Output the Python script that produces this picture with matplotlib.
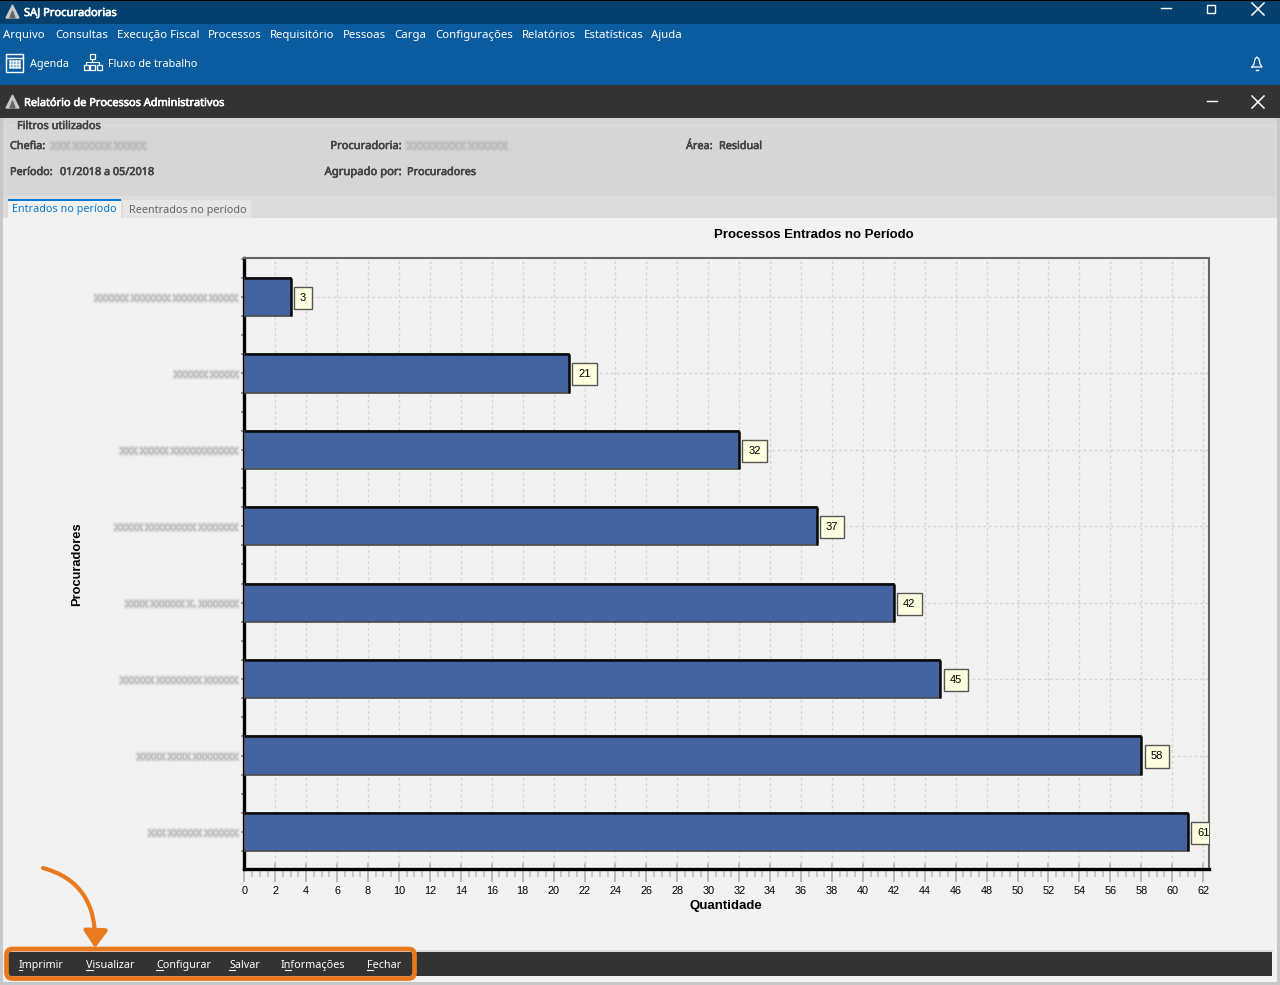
import matplotlib
matplotlib.use("Agg")
import matplotlib.pylab as plt
import matplotlib.patheffects as pe
from matplotlib.patches import Rectangle, FancyBboxPatch, FancyArrowPatch

# names are unreadable in the reference, so these only stand in for the blurred text
names = ["xxxxxx xxxxxxx xxxxxx xxxxx", "xxxxxx xxxxx", "xxx xxxxx xxxxxxxxxxxx", "xxxxx xxxxxxxxx xxxxxxx",
         "xxxx xxxxxx x. xxxxxxx", "xxxxxx xxxxxxxx xxxxxx", "xxxxx xxxx xxxxxxxx", "xxx xxxxxx xxxxxx"]
quantities = [3, 21, 32, 37, 42, 45, 58, 61]

menu_labels = ["Arquivo", "Consultas", "Execução Fiscal", "Processos", "Requisitório", "Pessoas", "Carga",
               "Configurações", "Relatórios", "Estatísticas", "Ajuda"]
menu_x = [3, 55, 117, 208, 270, 343, 394, 435, 522, 584, 651]
button_labels = ["Imprimir", "Visualizar", "Configurar", "Salvar", "Informações", "Fechar"]
button_x = [19, 86, 156, 229, 281, 367]
underline_x = [(19, 22), (86, 93), (156, 163), (229, 235), (285, 291), (367, 373)]

UI_FONT = "Noto Sans"
CHART_FONT = "Liberation Sans"


def blur(color="#b4b4b4"):
    """ layers of soft strokes so that text looks blurred like in the picture """
    return [pe.Stroke(linewidth=4, foreground=color, alpha=0.12),
            pe.Stroke(linewidth=2.5, foreground=color, alpha=0.22),
            pe.Stroke(linewidth=1.2, foreground=color, alpha=0.35)]


def box(x, y, w, h, color):
    """
    filled rectangle in pixel coordinates of the window

    :param x:
    :param y:
    :param w:
    :param h:
    :param color:
    :return:
    """
    plt.gca().add_patch(Rectangle((x, y), w, h, facecolor=color, edgecolor="none"))


def label(x, y, text, color="white", size=8.2, heavy=False, ha="left"):
    """ window text, y is the vertical centre in pixels, heavy thickens the regular face """
    t = plt.text(x, y + 4, text, color=color, fontsize=size, ha=ha, va="baseline", family=UI_FONT)
    if heavy:
        t.set_path_effects([pe.withStroke(linewidth=0.45, foreground=color)])
    return t


def draw_logo(x, y):
    """ small pyramid of the title bars """
    plt.fill([x, x + 6.5, x + 13], [y + 13, y, y + 13], color="#c9c9c9")
    plt.fill([x + 4, x + 6.5, x + 9], [y + 13, y + 6, y + 13], color="#666666")


def draw_close(x, y, size, color="white"):
    """ cross of a window button """
    plt.plot([x, x + size], [y, y + size], color=color, lw=1.1)
    plt.plot([x, x + size], [y + size, y], color=color, lw=1.1)


def draw_window():
    """ everything around the chart, drawn in pixels on one big axes """
    plt.axes([0, 0, 1, 1])
    plt.xlim(0, 1280)
    plt.ylim(985, 0)
    plt.axis("off")

    box(0, 0, 1280, 985, "#f2f2f2")
    box(0, 0, 1280, 24, "#05406f")
    box(0, 0, 1280, 1, "#000000")
    box(0, 24, 1280, 61, "#0b5c9e")
    box(0, 85, 1280, 33, "#333333")
    box(0, 118, 1280, 78, "#d6d6d6")
    box(0, 196, 1280, 22, "#dcdcdc")
    box(0, 118, 3, 867, "#c8c8c8")
    box(1277, 118, 3, 867, "#c8c8c8")
    box(0, 982, 1280, 3, "#c8c8c8")

    # title bars
    draw_logo(6, 5)
    label(24, 12, "SAJ Procuradorias", size=8, heavy=True)
    draw_logo(6, 95)
    label(24, 102, "Relatório de Processos Administrativos", size=7.9, heavy=True)
    plt.plot([1161, 1171], [8, 8], color="white", lw=1)
    plt.gca().add_patch(Rectangle((1207, 5), 8, 8, facecolor="none", edgecolor="white", lw=1))
    draw_close(1252, 3, 12)
    plt.plot([1207, 1217], [101, 101], color="white", lw=1)
    draw_close(1252, 96, 12)

    # menu and toolbar
    for x, text in zip(menu_x, menu_labels):
        label(x, 34, text, size=8.2)
    plt.gca().add_patch(Rectangle((6, 54), 17, 18, facecolor="none", edgecolor="white", lw=1))
    plt.plot([6, 23], [58, 58], color="white", lw=1)
    for x in [10, 13, 16, 19]:
        plt.plot([x, x, x], [61, 64, 67], color="white", lw=0, marker="s", markersize=1)
    label(30, 63, "Agenda", size=7.8)
    plt.gca().add_patch(Rectangle((90, 54), 5, 5, facecolor="none", edgecolor="white", lw=0.9))
    for x in [84, 90, 97]:
        plt.gca().add_patch(Rectangle((x, 65), 5, 5, facecolor="none", edgecolor="white", lw=0.9))
    plt.plot([92, 92, 86, 86], [59, 62, 62, 65], color="white", lw=0.8)
    plt.plot([92, 99, 99], [62, 62, 65], color="white", lw=0.8)
    label(108, 63, "Fluxo de trabalho", size=7.8)
    plt.plot([1252, 1254, 1255, 1257, 1259, 1260, 1262, 1252], [67, 64, 59, 57, 59, 64, 67, 67], color="white", lw=0.9)
    plt.plot([1256, 1258], [70, 70], color="white", lw=1)

    # filter box
    plt.gca().add_patch(Rectangle((5, 125), 1270, 71, facecolor="none", edgecolor="#dedede", lw=1))
    box(15, 120, 89, 11, "#d6d6d6")
    label(17, 125, "Filtros utilizados", "#444444", 7.9, True)
    label(10, 145, "Chefia:", "#444444", 7.8, True)
    label(51, 145, "xxx xxxxxx xxxxx", "#b4b4b4", 8.6).set_path_effects(blur())
    label(402, 145, "Procuradoria:", "#444444", 8, True, ha="right")
    label(407, 145, "xxxxxxxxx xxxxxx", "#b4b4b4", 8.8).set_path_effects(blur())
    label(686, 145, "Área:", "#444444", 7.8, True)
    label(719, 145, "Residual", "#444444", 7.8, True)
    label(10, 171, "Período:", "#444444", 7.8, True)
    label(60, 171, "01/2018 a 05/2018", "#444444", 7.8, True)
    label(402, 171, "Agrupado por:", "#444444", 8.1, True, ha="right")
    label(407, 171, "Procuradores", "#444444", 7.8, True)

    # tabs
    box(3, 218, 1274, 734, "#f2f2f2")
    box(8, 199, 113, 19, "#f2f2f2")
    box(8, 199, 113, 2, "#0a78d0")
    box(123, 200, 128, 18, "#e6e6e6")
    label(12, 208, "Entrados no período", "#0a78d0", 7.8)
    label(129, 209, "Reentrados no período", "#666666", 7.8)

    # bottom bar
    box(5, 950, 1268, 2, "#dcdcdc")
    box(5, 952, 1267, 24, "#333333")
    for x, text in zip(button_x, button_labels):
        label(x, 964, text, size=7.8)
    for start, end in underline_x:
        plt.plot([start, end], [970, 970], color="white", lw=0.8)
    plt.gca().add_patch(FancyBboxPatch((6.5, 949), 408, 29.5, boxstyle="round,pad=0,rounding_size=6",
                                       facecolor="none", edgecolor="#e8791e", lw=3.4, zorder=5))
    plt.gca().add_patch(FancyArrowPatch((43, 868), (95, 948), connectionstyle="angle3,angleA=-15,angleB=88",
                                        arrowstyle="-|>,head_length=4,head_width=2.8", mutation_scale=2.6,
                                        color="#e8791e", lw=3, zorder=5, shrinkA=0, shrinkB=0))


def draw_chart():
    """ bar chart itself """
    plt.axes([244 / 1280, 1 - 869 / 985, (1209 - 244) / 1280, (869 - 258) / 985])
    ax = plt.gca()
    ax.set_facecolor("#f2f2f2")
    positions = list(range(len(names)))
    tops = [pos - 0.25 for pos in positions]
    bottoms = [pos + 0.25 for pos in positions]

    plt.barh(positions, quantities, height=0.5, color="#4364a0", edgecolor="#4a4a4a", linewidth=1.2, zorder=3)
    plt.hlines(tops, 0, quantities, color="#0a0a0a", linewidth=1.8, zorder=3)  # heavy top and right edge
    plt.vlines(quantities, tops, bottoms, color="#0a0a0a", linewidth=1.8, zorder=3)
    plt.xlim(-0.02, 62.38)
    plt.ylim(7.485, -0.51)

    plt.xticks(range(0, 63, 2), fontsize=7.8, family=CHART_FONT)
    plt.xticks([i / 2 for i in range(0, 125)], minor=True)
    plt.yticks(positions, names, fontsize=8, family=CHART_FONT, color="#b4b4b4")
    plt.yticks([i / 4 for i in range(-2, 30)], minor=True)
    for tick in ax.get_yticklabels():
        tick.set_path_effects(blur())

    plt.tick_params(axis="x", which="major", length=9, width=1.3, color="#b4b4b4", pad=3, labelcolor="black")
    plt.tick_params(axis="x", which="minor", length=5.5, width=1.3, color="#c4c4c4")
    plt.tick_params(axis="y", which="both", length=2, width=1.2, color="#8c8c8c", pad=1.5)
    plt.grid(axis="x", which="major", color="#d4d4d4", linestyle=(0, (2, 2)), linewidth=1)
    plt.grid(axis="y", which="major", color="#d4d4d4", linestyle=(0, (2, 2)), linewidth=1)
    ax.set_axisbelow(True)

    # major ticks also reach a little inside the plot
    inner = ax.secondary_xaxis("bottom")
    inner.set_xticks(range(0, 63, 2))
    inner.tick_params(direction="in", length=4.5, width=1.3, color="#b4b4b4", labelbottom=False)
    inner.spines["bottom"].set_visible(False)

    for side in ["left", "bottom"]:
        ax.spines[side].set_linewidth(2.4)
        ax.spines[side].set_color("black")
    for side in ["top", "right"]:
        ax.spines[side].set_linewidth(1.5)
        ax.spines[side].set_color("#666666")

    # value boxes next to the bars
    for pos, value in zip(positions, quantities):
        plt.annotate(str(value), (value, pos), xytext=(8.8 if value < 10 else 11.2, -0.7), textcoords="offset points",
                     ha="center", va="center", fontsize=8, family=CHART_FONT, clip_on=True, zorder=4,
                     bbox=dict(boxstyle="square,pad=0.55", facecolor="#ffffe0", edgecolor="#555555", linewidth=1))

    plt.figtext(814 / 1280, 1 - 235 / 985, "Processos Entrados no Período", ha="center", va="center",
                fontsize=9.5, fontweight="bold", family=CHART_FONT)
    plt.figtext(726 / 1280, 1 - 905.5 / 985, "Quantidade", ha="center", va="center",
                fontsize=9.5, fontweight="bold", family=CHART_FONT)
    plt.figtext(77.5 / 1280, 1 - 564 / 985, "Procuradores", ha="center", va="center", rotation=90,
                fontsize=9.3, fontweight="bold", family=CHART_FONT)


def main():
    """ builds the window and saves it """
    plt.figure(figsize=(12.8, 9.85), dpi=100)

    draw_window()
    draw_chart()

    plt.savefig("out.png", dpi=100)


if __name__ == '__main__':
    main()
